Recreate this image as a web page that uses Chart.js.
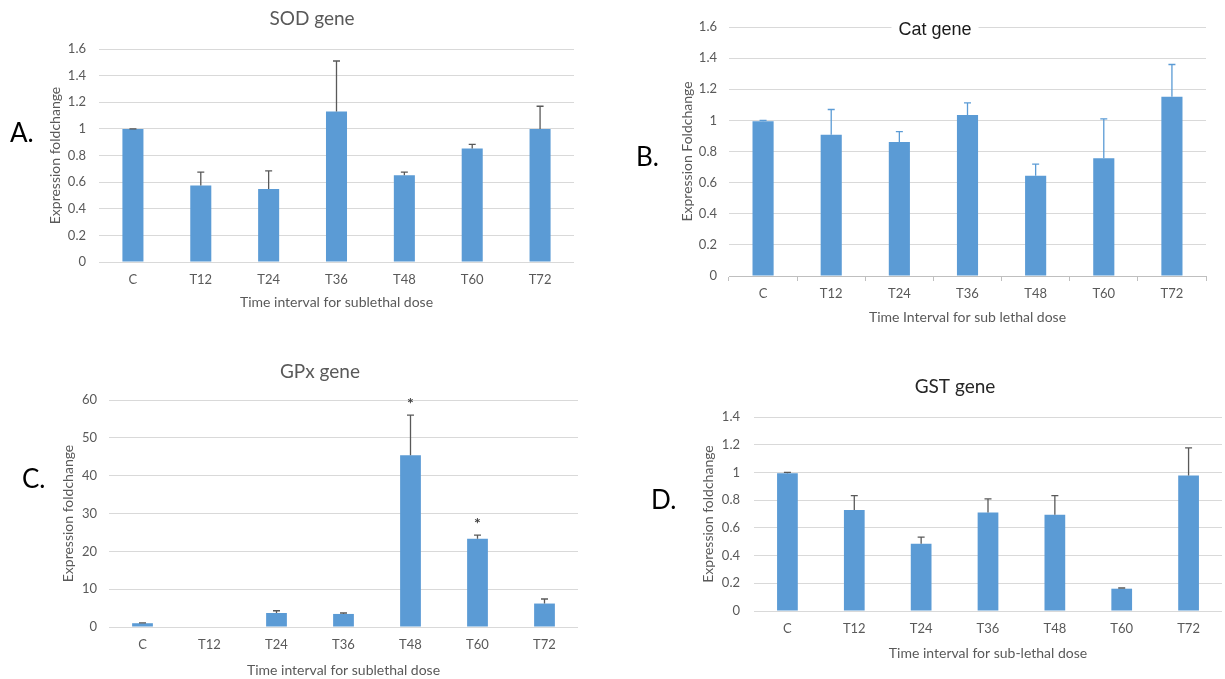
<!DOCTYPE html>
<html>
<head>
<meta charset="utf-8">
<script src="https://cdn.jsdelivr.net/npm/chart.js@4.4.1/dist/chart.umd.min.js"></script>
<style>
  body { margin: 0; background: #fff; }
  #wrap { position: relative; width: 1225px; height: 679px; overflow: hidden; background: #fff; }
  canvas { position: absolute; }
  .tag { position: absolute; font-family: Lato, 'Open Sans', sans-serif; font-size: 26px; line-height: 1; color: #000; }
</style>
</head>
<body>
<div id="wrap">
  <canvas id="sod"></canvas>
  <canvas id="cat"></canvas>
  <canvas id="gpx"></canvas>
  <canvas id="gst"></canvas>
  <div class="tag" style="left:10px;top:119px">A.</div>
  <div class="tag" style="left:636px;top:143px">B.</div>
  <div class="tag" style="left:22px;top:465px">C.</div>
  <div class="tag" style="left:651px;top:486px">D.</div>
</div>
<script>
// sampling times
const categories = ['C', 'T12', 'T24', 'T36', 'T48', 'T60', 'T72'];

// mean fold change and upper error (SD) per gene
const sodMean = [1.0, 0.575, 0.548, 1.13, 0.652, 0.853, 1.0];
const sodErr = [0.0, 0.10, 0.137, 0.38, 0.023, 0.03, 0.17];

const catMean = [0.995, 0.907, 0.861, 1.034, 0.644, 0.756, 1.152];
const catErr = [0.005, 0.163, 0.067, 0.079, 0.075, 0.254, 0.207];

const gpxMean = [1.0, null, 3.7, 3.45, 45.4, 23.3, 6.2];
const gpxErr = [0.1, null, 0.6, 0.25, 10.6, 1.0, 1.2];
const gpxStars = ['', '', '', '', '*', '*', ''];

const gstMean = [0.994, 0.728, 0.485, 0.711, 0.694, 0.161, 0.977];
const gstErr = [0.006, 0.105, 0.048, 0.098, 0.139, 0.005, 0.2];

// y axis: [min, max, step]
const foldAxisSod = [0, 1.6, 0.2];
const foldAxisCat = [0, 1.6, 0.2];
const foldAxisGpx = [0, 60, 10];
const foldAxisGst = [0, 1.4, 0.2];

const BLUE = '#5b9bd5';
const GREY = '#595959';
const FONT = "Lato, 'Open Sans', sans-serif";
const HALF_TITLE = 8.4; // half line height of 14px axis titles

function panel(id, box, cfg) {
  const cv = document.getElementById(id);
  cv.style.left = box.x + 'px';
  cv.style.top = box.y + 'px';
  cv.width = box.w;
  cv.height = box.h;

  // plot rectangle in canvas coords
  const L = box.plot[0] - box.x, R = box.plot[1] - box.x;
  const T = box.plot[2] - box.y, B = box.plot[3] - box.y;
  const yTitleLeft = box.yTitleX - box.x - HALF_TITLE;
  const xTitleBottom = box.xTitleY - box.y + HALF_TITLE;

  // error bars (upper only) + significance marks
  const errorBars = {
    id: 'errorBars',
    afterDatasetsDraw(chart) {
      const ctx = chart.ctx;
      const ys = chart.scales.y;
      const meta = chart.getDatasetMeta(0);
      ctx.save();
      ctx.strokeStyle = cfg.errColor;
      ctx.lineWidth = 1.3;
      meta.data.forEach((bar, i) => {
        const v = cfg.mean[i], e = cfg.err[i];
        if (v == null || e == null) return;
        const yTop = ys.getPixelForValue(v + e);
        const y0 = ys.getPixelForValue(v);
        ctx.beginPath();
        ctx.moveTo(bar.x, y0);
        ctx.lineTo(bar.x, yTop);
        ctx.moveTo(bar.x - 3.5, yTop);
        ctx.lineTo(bar.x + 3.5, yTop);
        ctx.stroke();
        if (cfg.stars && cfg.stars[i]) {
          ctx.fillStyle = '#404040';
          ctx.font = 'bold 16px ' + FONT;
          ctx.textAlign = 'center';
          ctx.textBaseline = 'middle';
          ctx.fillText(cfg.stars[i], bar.x, yTop - 11);
        }
      });
      ctx.restore();
    }
  };

  const panelTitle = {
    id: 'panelTitle',
    afterDraw(chart) {
      const ctx = chart.ctx;
      const tx = box.titleX - box.x, ty = box.titleY - box.y;
      ctx.save();
      ctx.font = cfg.titleFont;
      ctx.textAlign = 'center';
      ctx.textBaseline = 'middle';
      if (cfg.titleBox) {
        const w = ctx.measureText(cfg.title).width + 14;
        ctx.fillStyle = '#fff';
        ctx.fillRect(tx - w / 2, ty - 11, w, 22);
      }
      ctx.fillStyle = cfg.titleColor;
      ctx.fillText(cfg.title, tx, ty);
      ctx.restore();
    }
  };

  const xGrid = cfg.xTicks
    ? { display: true, drawOnChartArea: false, drawTicks: true, tickLength: 5, color: '#bfbfbf' }
    : { display: false, drawTicks: false };

  new Chart(cv, {
    type: 'bar',
    data: {
      labels: categories,
      datasets: [{
        data: cfg.mean,
        backgroundColor: BLUE,
        barPercentage: 0.31,
        categoryPercentage: 1.0
      }]
    },
    options: {
      responsive: false,
      animation: false,
      layout: {
        padding: { left: yTitleLeft, right: box.w - R, top: T, bottom: box.h - xTitleBottom }
      },
      plugins: {
        legend: { display: false },
        tooltip: { enabled: false }
      },
      scales: {
        x: {
          afterFit: s => { s.height = xTitleBottom - B; },
          grid: xGrid,
          border: cfg.xTicks ? { display: true, color: '#bfbfbf' } : { display: false },
          ticks: { color: GREY, font: { family: FONT, size: 13 }, padding: cfg.xTicks ? 5 : 10 },
          title: {
            display: true, text: cfg.xTitle, color: GREY,
            font: { family: FONT, size: 14 }, padding: 0
          }
        },
        y: {
          min: cfg.axis[0],
          max: cfg.axis[1],
          afterFit: s => { s.width = L - yTitleLeft; },
          grid: { color: '#d9d9d9', drawTicks: false },
          border: { display: false },
          ticks: {
            stepSize: cfg.axis[2],
            padding: box.tickPad,
            color: GREY,
            font: { family: FONT, size: 13 },
            callback: v => String(+v.toFixed(1))
          },
          title: {
            display: true, text: cfg.yTitle, color: GREY,
            font: { family: FONT, size: 14 }, padding: 0
          }
        }
      }
    },
    plugins: [errorBars, panelTitle]
  });
}

panel('sod',
  { x: 0, y: 0, w: 612, h: 330, plot: [99, 574, 49, 262], yTitleX: 55, xTitleY: 302, titleX: 312, titleY: 19, tickPad: 13 },
  { mean: sodMean, err: sodErr, axis: foldAxisSod, errColor: GREY,
    title: 'SOD gene', titleFont: '19px ' + FONT, titleColor: GREY,
    xTitle: 'Time interval for sublethal dose', yTitle: 'Expression foldchange' });

panel('cat',
  { x: 612, y: 0, w: 613, h: 335, plot: [729, 1206, 27, 276], yTitleX: 687, xTitleY: 317, titleX: 935, titleY: 30, tickPad: 12 },
  { mean: catMean, err: catErr, axis: foldAxisCat, errColor: BLUE, xTicks: true,
    title: 'Cat gene', titleFont: "18px 'Liberation Sans', Arial, sans-serif", titleColor: '#1a1a1a', titleBox: true,
    xTitle: 'Time Interval for sub lethal dose', yTitle: 'Expression Foldchange' });

panel('gpx',
  { x: 0, y: 345, w: 612, h: 334, plot: [109, 578, 400, 627], yTitleX: 68, xTitleY: 670, titleX: 320, titleY: 372, tickPad: 12 },
  { mean: gpxMean, err: gpxErr, stars: gpxStars, axis: foldAxisGpx, errColor: GREY,
    title: 'GPx gene', titleFont: '19px ' + FONT, titleColor: GREY,
    xTitle: 'Time interval for sublethal dose', yTitle: 'Expression foldchange' });

panel('gst',
  { x: 612, y: 345, w: 613, h: 334, plot: [754, 1222, 417, 611], yTitleX: 708, xTitleY: 653, titleX: 955, titleY: 387, tickPad: 14 },
  { mean: gstMean, err: gstErr, axis: foldAxisGst, errColor: GREY,
    title: 'GST gene', titleFont: '19px ' + FONT, titleColor: '#262626',
    xTitle: 'Time interval for sub-lethal dose', yTitle: 'Expression foldchange' });
</script>
</body>
</html>
